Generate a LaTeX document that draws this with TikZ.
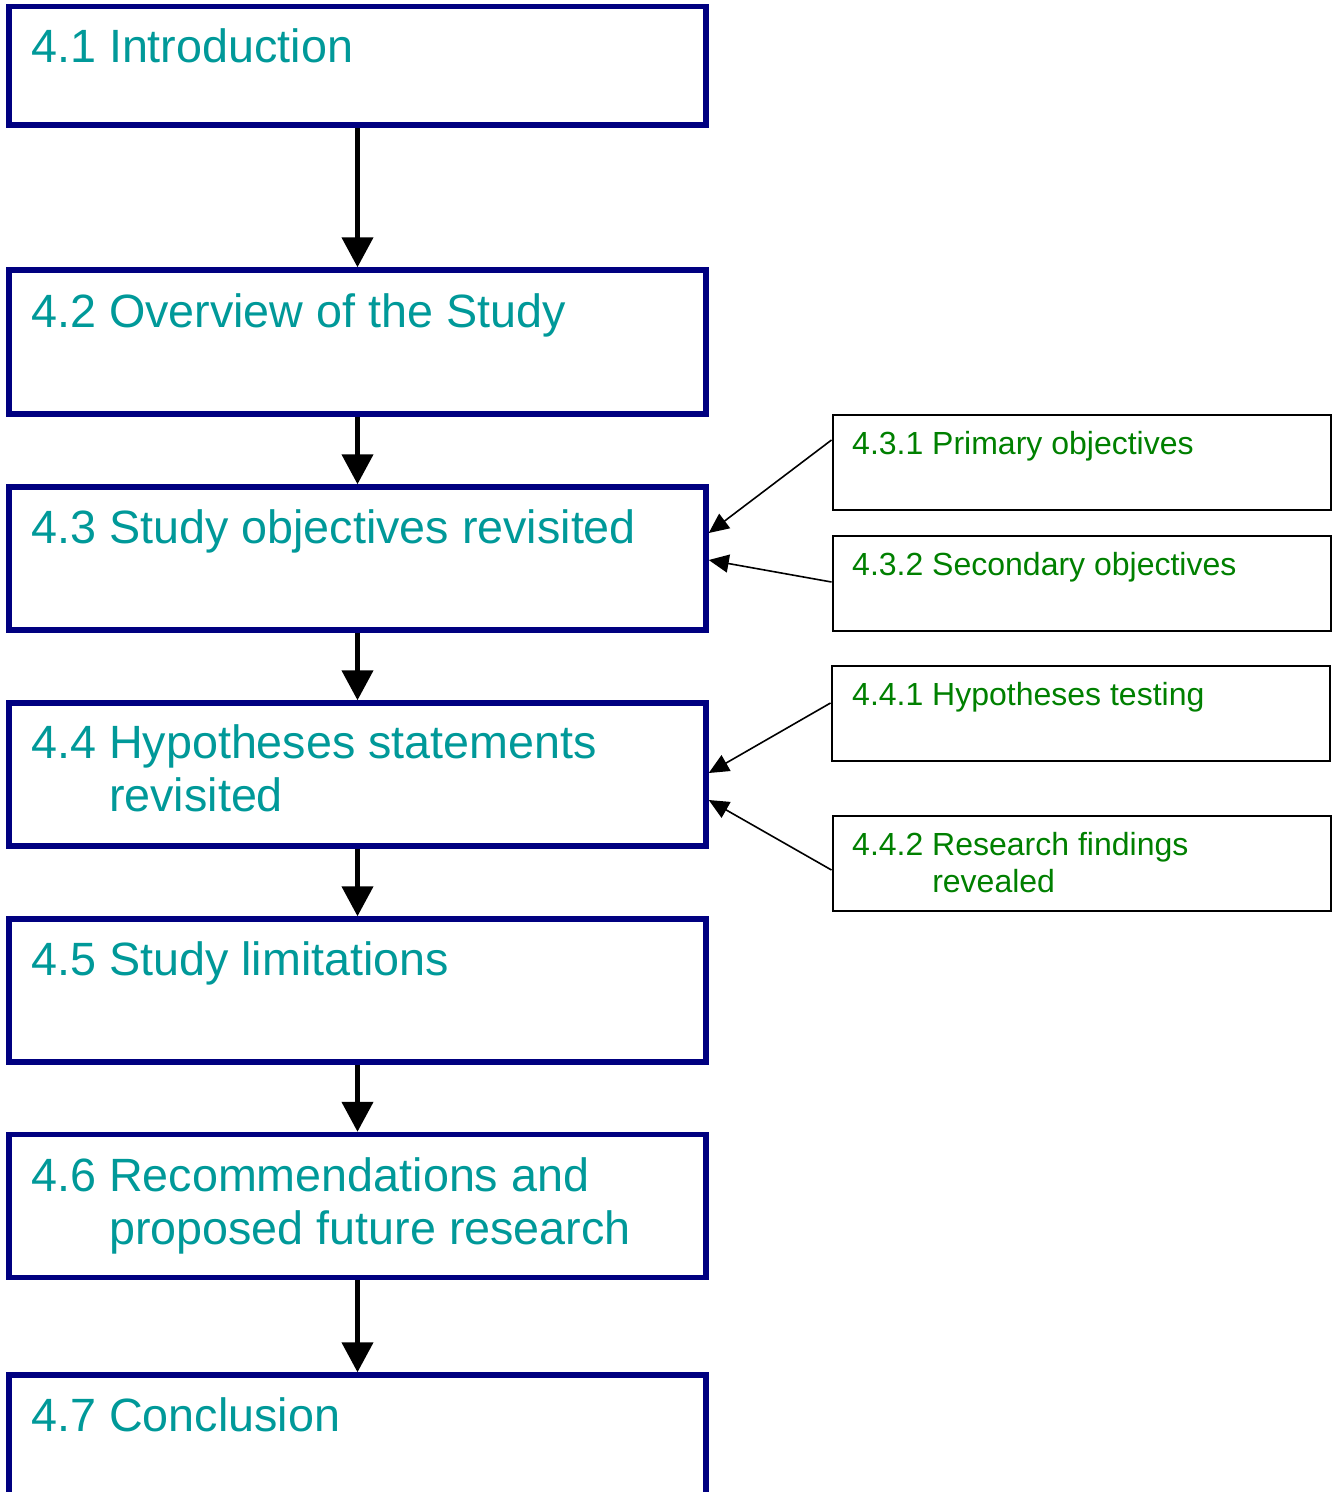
\documentclass[tikz,border=0pt]{standalone}
\usepackage{fontspec}
\setmainfont{Liberation Sans}
\usetikzlibrary{arrows.meta}
\definecolor{navyline}{HTML}{000080}
\definecolor{tealtext}{HTML}{009999}
\definecolor{greentext}{HTML}{008000}
\begin{document}
\begin{tikzpicture}[x=1pt,y=-1pt,
  mainbox/.style={draw=navyline, line width=5.5pt, rectangle, inner sep=0pt,
    minimum width=697pt, minimum height=143pt},
  subbox/.style={draw=black, line width=2pt, rectangle, inner sep=0pt,
    minimum width=498pt, minimum height=95pt},
  % multi-line labels are placed at the baseline of their last line
  maintext/.style={anchor=base west, inner sep=0pt, text=tealtext, align=left,
    font=\fontsize{46.7pt}{53pt}\selectfont},
  subtext/.style={anchor=base west, inner sep=0pt, text=greentext, align=left,
    font=\fontsize{32pt}{37pt}\selectfont},
  flow/.style={line width=4.5pt, -{Triangle[length=30pt,width=31pt]}},
  feed/.style={line width=1.6pt, -{Triangle[length=20pt,width=18pt]}}]
\clip (0,0) rectangle (1336,1492);
\fill[white] (0,0) rectangle (1336,1492);

% main chapter sections
\node[mainbox, minimum height=118.5pt] (b1) at (357.5,65.75) {};
\node[mainbox, minimum height=144pt] (b2) at (357.5,342) {};
\node[mainbox] (b3) at (357.5,558.5) {};
\node[mainbox] (b4) at (357.5,774.5) {};
\node[mainbox] (b5) at (357.5,990.5) {};
\node[mainbox] (b6) at (357.5,1206) {};
\node[mainbox] (b7) at (357.5,1446.5) {};

\node[maintext] (t1) at (31,62) {4.1 Introduction};
\node[maintext] (t2) at (31,327) {4.2 Overview of the Study};
\node[maintext] (t3) at (31,543) {4.3 Study objectives revisited};
\node[maintext] (t4) at (31,811) {4.4 Hypotheses statements\\\hphantom{4.4\ }revisited};
\node[maintext] (t5) at (31,975) {4.5 Study limitations};
\node[maintext] (t6) at (31,1244) {4.6 Recommendations and\\\hphantom{4.6\ }proposed future research};
\node[maintext] (t7) at (31,1431) {4.7 Conclusion};

% subsections
\node[subbox] (s1) at (1081.5,462.5) {};
\node[subbox] (s2) at (1081.5,583.5) {};
\node[subbox] (s3) at (1080.5,713.5) {};
\node[subbox] (s4) at (1081.5,863.5) {};

\node[subtext] (u1) at (852,454) {4.3.1 Primary objectives};
\node[subtext] (u2) at (852,575) {4.3.2 Secondary objectives};
\node[subtext] (u3) at (852,705) {4.4.1 Hypotheses testing};
\node[subtext] (u4) at (852,892) {4.4.2 Research findings\\\hphantom{4.4.2\ }revealed};

% flow between sections
\draw[flow] (b1.south) -- (b2.north);
\draw[flow] (b2.south) -- (b3.north);
\draw[flow] (b3.south) -- (b4.north);
\draw[flow] (b4.south) -- (b5.north);
\draw[flow] (b5.south) -- (b6.north);
\draw[flow] (b6.south) -- (b7.north);

% subsections feeding their sections
\draw[feed] ([yshift=22.5pt]s1.west) -- ([yshift=25.5pt]b3.east);
\draw[feed] ([yshift=1.5pt]s2.west) -- ([yshift=-1.5pt]b3.east);
\draw[feed] ([yshift=10.5pt]s3.west) -- ([yshift=1.5pt]b4.east);
\draw[feed] ([yshift=-6.5pt]s4.west) -- ([yshift=-25.5pt]b4.east);
\end{tikzpicture}
\end{document}
